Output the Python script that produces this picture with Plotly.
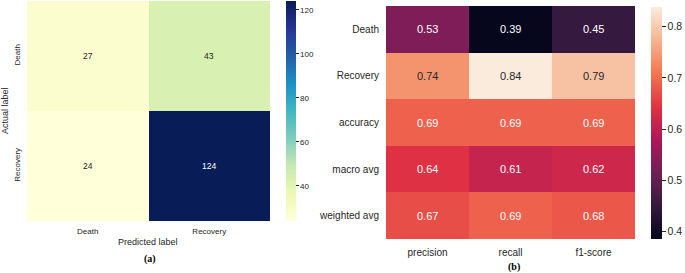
import plotly.graph_objects as go

W, H = 685, 273

# ---- data ----
cm_labels = ["Death", "Recovery"]
cm_values = [[27, 43], [24, 124]]

rep_rows = ["Death", "Recovery", "accuracy", "macro avg", "weighted avg"]
rep_cols = ["precision", "recall", "f1-score"]
precision = [0.53, 0.74, 0.69, 0.64, 0.67]
recall = [0.39, 0.84, 0.69, 0.61, 0.69]
f1_score = [0.45, 0.79, 0.69, 0.62, 0.68]
rep_values = [[p, r, f] for p, r, f in zip(precision, recall, f1_score)]

cm_ticks = [40, 60, 80, 100, 120]
rep_ticks = [0.4, 0.5, 0.6, 0.7, 0.8]

YLGNBU = ['#ffffd9', '#edf8b1', '#c7e9b4', '#7fcdbb', '#41b6c4',
          '#1d91c0', '#225ea8', '#253494', '#081d58']
ylgnbu = [[i / 8, c] for i, c in enumerate(YLGNBU)]
rocket = [[0.0, '#03051a'], [1 / 7, '#35193e'], [2 / 7, '#701f57'],
          [3 / 7, '#ad1759'], [4 / 7, '#e13342'], [5 / 7, '#f37651'],
          [6 / 7, '#f6b48f'], [1.0, '#faebdd']]

TXT = '#262626'
FONT = "Liberation Sans, Arial, sans-serif"
SERIF = "Liberation Serif, Times New Roman, serif"


def px_x(x):
    return x / W


def px_y(y):
    return 1 - y / H


fig = go.Figure()

cm_min, cm_max = 24, 124
fig.add_trace(go.Heatmap(
    z=cm_values, x=cm_labels, y=cm_labels, xaxis='x', yaxis='y',
    colorscale=ylgnbu, zmin=cm_min, zmax=cm_max, xgap=0, ygap=0,
    showscale=True, hoverinfo='skip',
    colorbar=dict(x=px_x(286), xanchor='left', xref='paper',
                  y=px_y(111), yanchor='middle', yref='paper',
                  lenmode='pixels', len=220, thickness=10,
                  xpad=0, ypad=0, outlinewidth=0,
                  tickvals=cm_ticks, ticks='outside', ticklen=3,
                  tickcolor=TXT, tickwidth=1,
                  tickfont=dict(size=8, color=TXT, family=FONT)),
))

r_min, r_max = 0.386, 0.838
fig.add_trace(go.Heatmap(
    z=rep_values, x=rep_cols, y=rep_rows, xaxis='x2', yaxis='y2',
    colorscale=rocket, zmin=r_min, zmax=r_max, xgap=0, ygap=0,
    showscale=True, hoverinfo='skip',
    colorbar=dict(x=px_x(651), xanchor='left', xref='paper',
                  y=px_y(123), yanchor='middle', yref='paper',
                  lenmode='pixels', len=232, thickness=11,
                  xpad=0, ypad=0, outlinewidth=0,
                  tickvals=rep_ticks, ticktext=[f"{t:.1f}" for t in rep_ticks],
                  ticks='outside', ticklen=4,
                  tickcolor=TXT, tickwidth=1,
                  tickfont=dict(size=10.5, color=TXT, family=FONT)),
))

annotations = []
for i, row in enumerate(cm_values):
    for j, v in enumerate(row):
        t = (v - cm_min) / (cm_max - cm_min)
        annotations.append(dict(x=cm_labels[j], y=cm_labels[i], xref='x', yref='y',
                                text=str(v), showarrow=False,
                                font=dict(size=8.5, family=FONT,
                                          color='white' if t > 0.6 else TXT)))
for i, row in enumerate(rep_values):
    for j, v in enumerate(row):
        t = (v - r_min) / (r_max - r_min)
        annotations.append(dict(x=rep_cols[j], y=rep_rows[i], xref='x2', yref='y2',
                                text=f"{v:.2f}", showarrow=False,
                                font=dict(size=11, family=FONT,
                                          color=TXT if t > 0.72 else 'white')))

annotations += [
    dict(x=px_x(5), y=px_y(111), xref='paper', yref='paper', text="Actual label",
         textangle=-90, showarrow=False, xanchor='center', yanchor='middle',
         font=dict(size=9, family=FONT, color=TXT)),
    dict(x=px_x(148), y=px_y(242), xref='paper', yref='paper', text="Predicted label",
         showarrow=False, xanchor='center', yanchor='middle',
         font=dict(size=9, family=FONT, color=TXT)),
    dict(x=px_x(150), y=px_y(259), xref='paper', yref='paper', text="<b>(a)</b>",
         showarrow=False, xanchor='center', yanchor='middle',
         font=dict(size=10, family=SERIF, color='black')),
    dict(x=px_x(514), y=px_y(267), xref='paper', yref='paper', text="<b>(b)</b>",
         showarrow=False, xanchor='center', yanchor='middle',
         font=dict(size=10, family=SERIF, color='black')),
]

fig.update_layout(
    width=W, height=H, margin=dict(l=0, r=0, t=0, b=0),
    paper_bgcolor='white', plot_bgcolor='white',
    font=dict(family=FONT, color=TXT),
    annotations=annotations,
    xaxis=dict(domain=[px_x(27), px_x(270)], anchor='y', type='category',
               showgrid=False, zeroline=False, showline=False, ticks='',
               tickfont=dict(size=8, color=TXT), ticklabelstandoff=4),
    yaxis=dict(domain=[px_y(221), px_y(1)], anchor='x', type='category',
               autorange='reversed', showgrid=False, zeroline=False, showline=False,
               ticks='', tickangle=-90, tickfont=dict(size=8, color=TXT),
               ticklabelstandoff=4),
    xaxis2=dict(domain=[px_x(386), px_x(635)], anchor='y2', type='category',
                showgrid=False, zeroline=False, showline=False, ticks='',
                tickfont=dict(size=10, color=TXT), ticklabelstandoff=6),
    yaxis2=dict(domain=[px_y(239), px_y(6)], anchor='x2', type='category',
                autorange='reversed', showgrid=False, zeroline=False, showline=False,
                ticks='', tickfont=dict(size=10, color=TXT), ticklabelstandoff=6),
)

fig.write_html("out.html", config={"displayModeBar": False},
               post_script="document.body.style.margin='0';document.body.style.overflow='hidden';")
